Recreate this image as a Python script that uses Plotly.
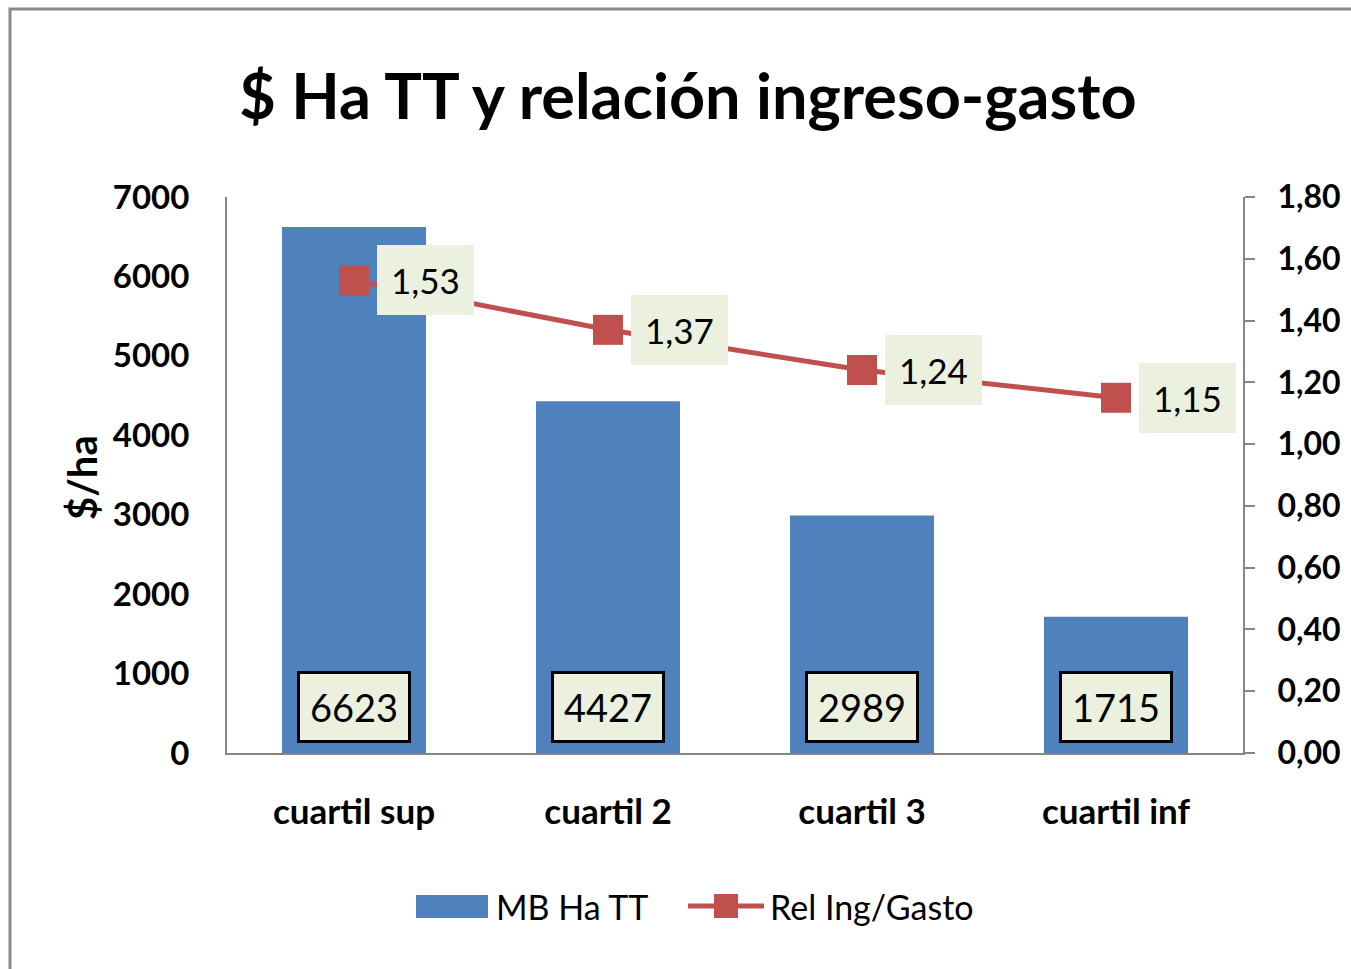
import plotly.graph_objects as go

# ---- data ----
categories = ["cuartil sup", "cuartil 2", "cuartil 3", "cuartil inf"]
mb_ha_tt = [6623, 4427, 2989, 1715]          # $/ha
rel_ing_gasto = [1.53, 1.37, 1.24, 1.15]      # ingreso / gasto

bar_name = "MB Ha TT"
line_name = "Rel Ing/Gasto"
title_text = "$ Ha TT y relación ingreso-gasto"
y_title = "$/ha"

# ---- layout constants ----
W, H = 1351, 969
L, R, T, B = 227, 108, 197, 216
PW, PH = W - L - R, H - T - B

FONT = "Lato, Liberation Sans, sans-serif"
BLUE = "#4F81BD"
RED = "#C0504D"
LABEL_BG = "#EBF1DE"
AXIS_GREY = "#868686"


def fx(px):
    return (px - L) / PW


def fy(py):
    return (H - B - py) / PH


fig = go.Figure()

fig.add_trace(go.Bar(
    x=categories, y=mb_ha_tt, name=bar_name,
    marker=dict(color=BLUE, line=dict(width=0)),
    showlegend=False,
))

fig.add_trace(go.Scatter(
    x=categories, y=rel_ing_gasto, name=line_name, yaxis="y2",
    mode="lines+markers",
    line=dict(color=RED, width=5),
    marker=dict(symbol="square", size=30, color=RED),
    showlegend=False,
))

annotations = []

# value boxes at the foot of each bar
for c, v in zip(categories, mb_ha_tt):
    annotations.append(dict(
        x=c, y=0, xref="x", yref="y", yanchor="bottom", yshift=10,
        text=f"{v}", showarrow=False,
        font=dict(family=FONT, size=38, color="black"),
        bgcolor=LABEL_BG, bordercolor="black", borderwidth=3, borderpad=10,
    ))

# ratio labels to the right of each marker
for c, v in zip(categories, rel_ing_gasto):
    annotations.append(dict(
        x=c, y=v, xref="x", yref="y2", xanchor="left", yanchor="middle",
        xshift=23, text=f"{v:.2f}".replace(".", ","), showarrow=False,
        font=dict(family=FONT, size=35, color="black"),
        bgcolor=LABEL_BG, borderwidth=0, borderpad=14,
    ))

# rotated y-axis title
annotations.append(dict(
    x=fx(82), y=fy(478), xref="paper", yref="paper",
    text=f"<b>{y_title}</b>", textangle=-90, showarrow=False,
    xanchor="center", yanchor="middle",
    font=dict(family=FONT, size=40, color="black"),
))

# legend texts
annotations.append(dict(
    x=fx(494), y=fy(906), xref="paper", yref="paper", xanchor="left",
    yanchor="middle", text=bar_name, showarrow=False,
    font=dict(family=FONT, size=34, color="black"),
))
annotations.append(dict(
    x=fx(768), y=fy(906), xref="paper", yref="paper", xanchor="left",
    yanchor="middle", text=line_name, showarrow=False,
    font=dict(family=FONT, size=34, color="black"),
))

shapes = [
    # chart frame (top and left edges visible)
    dict(type="rect", xref="paper", yref="paper",
         x0=fx(10), x1=fx(W + 40), y0=fy(H + 40), y1=fy(9),
         line=dict(color="#898989", width=3), fillcolor="rgba(0,0,0,0)",
         layer="below"),
    # legend: bar swatch
    dict(type="rect", xref="paper", yref="paper",
         x0=fx(416), x1=fx(488), y0=fy(918), y1=fy(895),
         line=dict(width=0), fillcolor=BLUE),
    # legend: line swatch
    dict(type="line", xref="paper", yref="paper",
         x0=fx(688), x1=fx(764), y0=fy(906), y1=fy(906),
         line=dict(color=RED, width=5)),
    dict(type="rect", xref="paper", yref="paper",
         x0=fx(714), x1=fx(738), y0=fy(918), y1=fy(894),
         line=dict(width=0), fillcolor=RED),
]

fig.update_layout(
    width=W, height=H,
    margin=dict(l=L, r=R, t=T, b=B, autoexpand=False),
    paper_bgcolor="white", plot_bgcolor="white",
    separators=",.",
    bargap=0.433,
    title=dict(
        text=f"<b>{title_text}</b>", x=688 / W, xref="container", xanchor="center",
        y=1 - 97 / H, yref="container", yanchor="middle",
        font=dict(family=FONT, size=63, color="black"),
    ),
    xaxis=dict(
        showline=True, linecolor=AXIS_GREY, linewidth=2, ticks="",
        tickfont=dict(family=FONT, size=35, color="black"),
        ticklabelstandoff=27, showgrid=False, zeroline=False,
        tickprefix="<b>", ticksuffix="</b>",
    ),
    yaxis=dict(
        range=[0, 7000], dtick=1000, tick0=0,
        showline=True, linecolor=AXIS_GREY, linewidth=2, ticks="",
        tickfont=dict(family=FONT, size=33, color="black"),
        tickprefix="<b>", ticksuffix="</b>",
        ticklabelstandoff=29, showgrid=False, zeroline=False,
    ),
    yaxis2=dict(
        range=[0, 1.8], dtick=0.2, tick0=0, tickformat=".2f",
        overlaying="y", side="right",
        showline=True, linecolor=AXIS_GREY, linewidth=2,
        ticks="outside", ticklen=10, tickcolor=AXIS_GREY, tickwidth=2,
        tickfont=dict(family=FONT, size=32, color="black"),
        tickprefix="<b>", ticksuffix="</b>",
        ticklabelstandoff=16, showgrid=False, zeroline=False,
    ),
    annotations=annotations,
    shapes=shapes,
)

fig.write_html("out.html")
